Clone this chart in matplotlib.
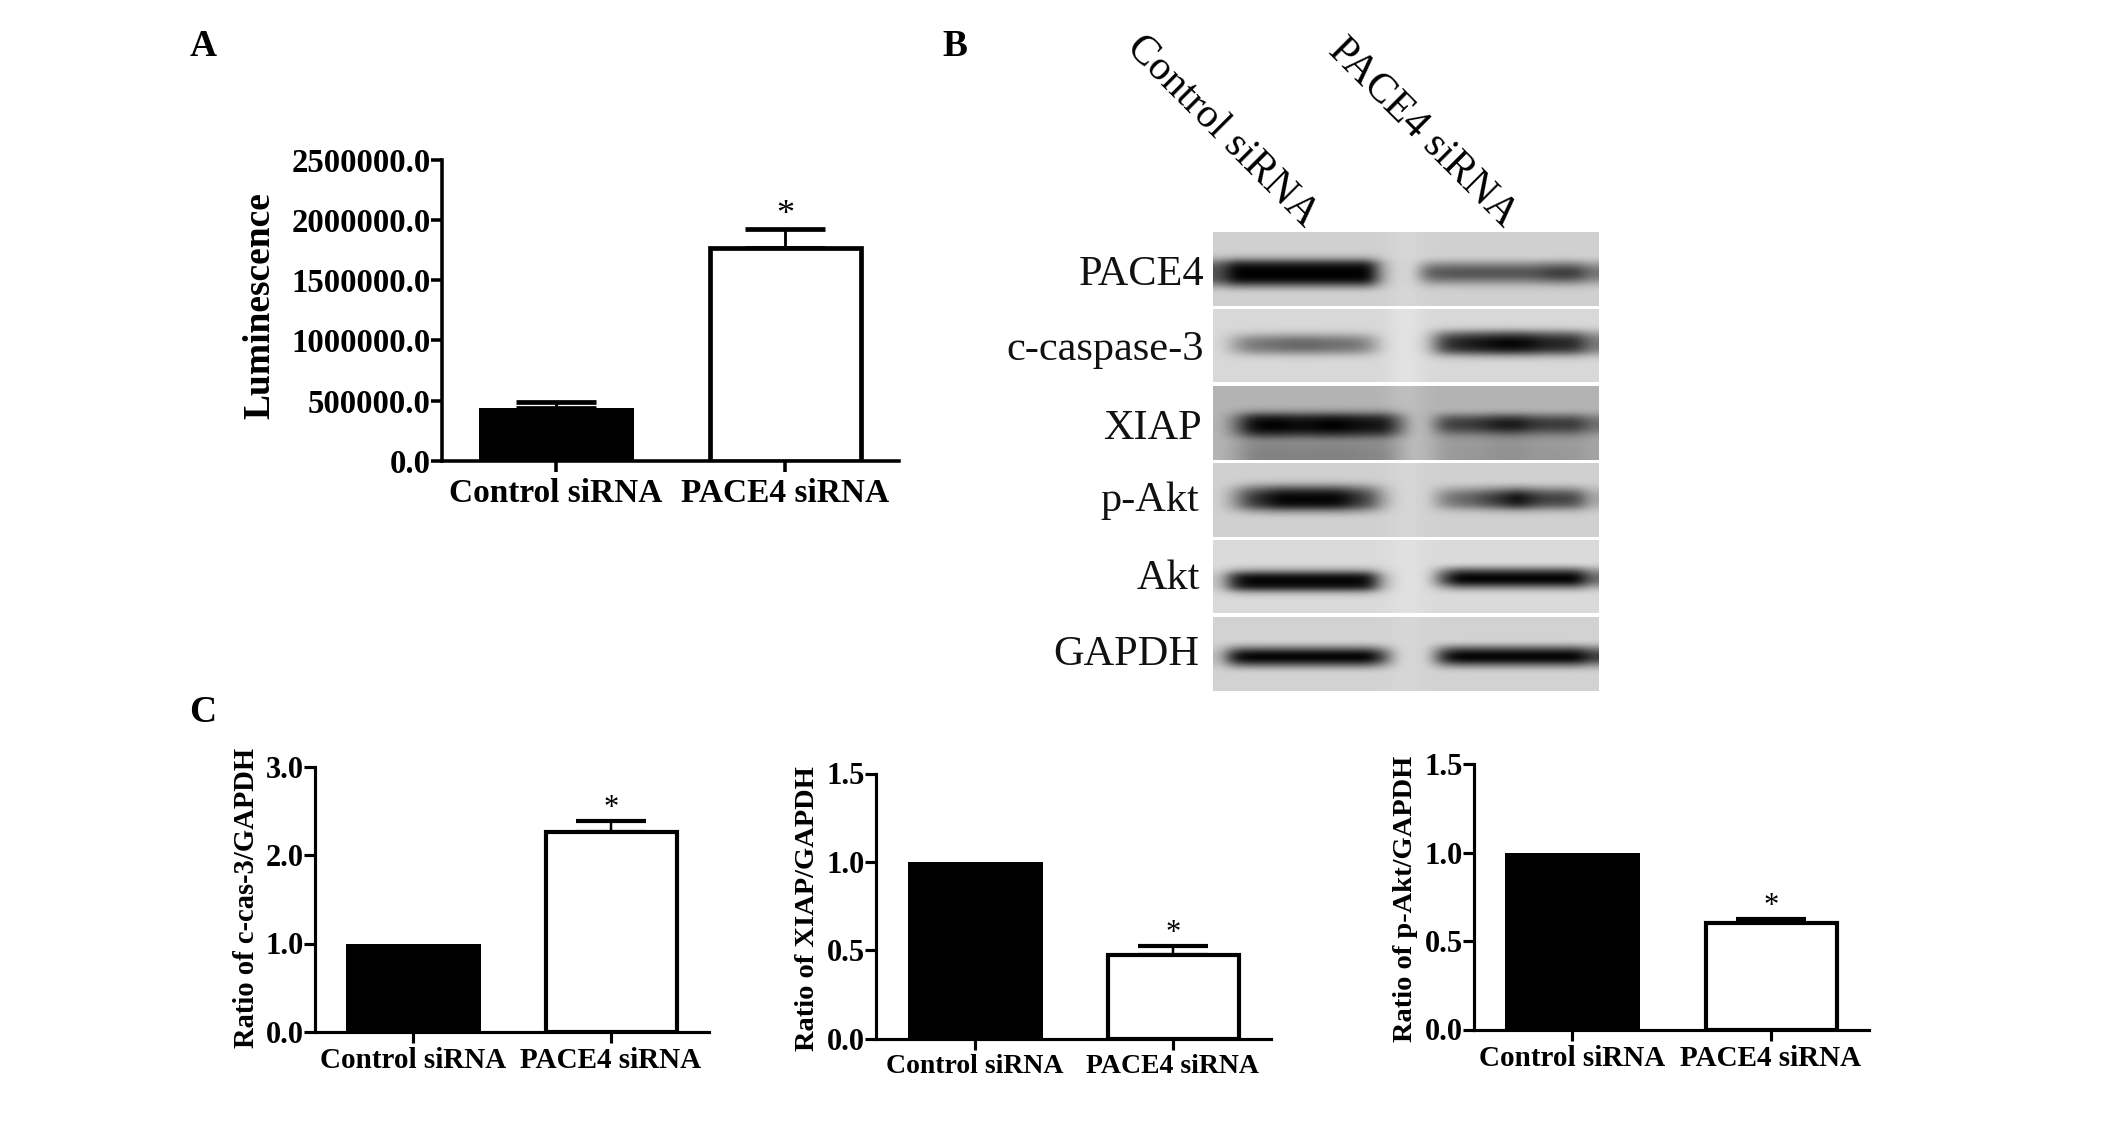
import matplotlib
matplotlib.use('Agg')
import matplotlib.pyplot as plt
import numpy as np

plt.rcParams['font.family'] = ['Liberation Serif', 'DejaVu Serif']

W, H = 2126, 1123

groups = ['Control siRNA', 'PACE4 siRNA']

# bar panels, values
lum_vals = [440000, 1770000]
lum_errs = [53000, 150000]
lum_ticks = [0, 500000, 1000000, 1500000, 2000000, 2500000]
lum_labels = ['0.0', '500000.0', '1000000.0', '1500000.0', '2000000.0', '2500000.0']

cas_vals = [1.0, 2.26]
cas_errs = [0, 0.12]
cas_ticks = [0, 1, 2, 3]
cas_labels = ['0.0', '1.0', '2.0', '3.0']

xiap_vals = [1.0, 0.47]
xiap_errs = [0, 0.055]
pakt_vals = [1.0, 0.60]
pakt_errs = [0, 0.022]
ratio_ticks = [0, 0.5, 1.0, 1.5]
ratio_labels = ['0.0', '0.5', '1.0', '1.5']

# western blot, strips top to bottom
blot_names = ['PACE4', 'c-caspase-3', 'XIAP', 'p-Akt', 'Akt', 'GAPDH']
blot_bg = [208, 216, 180, 208, 218, 210]
blot_gap = [214, 226, 190, 214, 224, 214]
# band darkness along each strip (0 none, 1 black)
blot_x = [
    [.60, 1, 1, 1, 1, 1, 1, 1, 1, 1, 1, .15, 0, 0, .55, .60, .62, .62, .62, .62, .62, .62, .70, .75, .72, .45],
    [0, .25, .45, .48, .52, .55, .55, .52, .50, .48, .35, .03, 0, 0, .10, .70, .85, .90, .95, 1, 1, .95, .85, .85, .80, .45],
    [0, .35, .90, 1, 1, .95, .95, 1, 1, .95, .90, .90, .50, 0, 0, .60, .70, .70, .80, .90, .90, .75, .70, .70, .70, .40],
    [0, .30, .70, .85, 1, 1, 1, 1, 1, .80, .65, .20, 0, 0, 0, .35, .50, .55, .70, .80, 1, .80, .70, .70, .65, .20],
    [.10, .85, 1, 1, 1, 1, 1, 1, 1, 1, .95, .20, 0, 0, 0, .60, 1, 1, 1, 1, 1, 1, 1, 1, 1, .50],
    [.10, .90, 1, 1, 1, 1, 1, 1, 1, 1, 1, .60, 0, 0, 0, .75, 1, 1, 1, 1, 1, 1, 1, 1, 1, .70],
]
# vertical shape of the band, left and right lane
blot_vl = [
    [0, 0, 0, 0, .15, .80, 1, 1, .95, .40, 0, 0, 0],
    [0, 0, 0, 0, .25, .85, 1, .80, .15, 0, 0, 0, 0],
    [0, 0, 0, 0, .20, .85, 1, 1, .70, .25, .25, .28, .28],
    [0, 0, 0, .10, .60, .95, 1, .90, .30, 0, 0, 0, 0],
    [0, 0, 0, 0, 0, .25, .95, 1, .90, .15, 0, 0, 0],
    [0, 0, 0, 0, 0, .45, 1, 1, .45, 0, 0, 0, 0],
]
blot_vr = [
    [0, 0, 0, 0, 0, .45, .90, 1, .65, .15, 0, 0, 0],
    [0, 0, 0, .05, .60, .95, 1, .85, .20, 0, 0, 0, 0],
    [0, 0, 0, 0, .05, .70, 1, .90, .45, .20, .20, .22, .22],
    [0, 0, 0, 0, .40, .90, 1, .80, .15, 0, 0, 0, 0],
    [0, 0, 0, 0, 0, .60, 1, 1, .40, 0, 0, 0, 0],
    [0, 0, 0, 0, 0, .55, 1, 1, .40, 0, 0, 0, 0],
]


def px_axes(left, right, top, bottom):
    return plt.gcf().add_axes([left / W, 1 - bottom / H, (right - left) / W, (bottom - top) / H])


def bar_panel(box, tick_px, bar_w, vals, errs, ymax, yticks, ylabels, ylabel, label_xy,
              lw, ticksize, xsize, ylabsize, starsize, starpad, xpad):
    left, right, top, bottom = box
    ax = px_axes(left, right, top, bottom)
    unit = tick_px[1] - tick_px[0]
    ax.set_xlim((left - tick_px[0]) / unit, (right - tick_px[0]) / unit)
    ax.set_ylim(0, ymax)
    ax.bar([0, 1], vals, width=[(bar_w + 2) / unit, (bar_w - 2) / unit], color=['black', 'white'],
           edgecolor='black', linewidth=[0, lw], zorder=3)
    if errs[0] > 0:
        ax.errorbar([0], vals[0], yerr=[[0], [errs[0]]], color='black', capsize=bar_w * .19,
                    elinewidth=lw * .6, capthick=lw, zorder=2)
    ax.errorbar([1], vals[1], yerr=[[0], [errs[1]]], color='black', capsize=bar_w * .19,
                elinewidth=lw * .6, capthick=lw, zorder=2)
    ax.annotate('*', (1, vals[1] + errs[1]), xytext=(0, starpad), textcoords='offset points',
                ha='center', va='bottom', fontsize=starsize)
    for s in ['top', 'right']:
        ax.spines[s].set_visible(False)
    for s in ['left', 'bottom']:
        ax.spines[s].set_linewidth(lw * .75)
    ax.set_xticks([0, 1], groups, fontsize=xsize, fontweight='bold')
    ax.set_yticks(yticks, ylabels, fontsize=ticksize, fontweight='bold')
    ax.tick_params(axis='both', length=8, width=lw * .75)
    ax.tick_params(axis='y', pad=0)
    ax.tick_params(axis='x', pad=xpad)
    ax.patch.set_alpha(0)
    plt.gcf().text(label_xy[0] / W, 1 - label_xy[1] / H, ylabel, rotation=90, ha='center', va='center',
                   fontsize=ylabsize, fontweight='bold')


fig = plt.figure(figsize=(W / 100, H / 100), dpi=100, facecolor='white')

bar_panel((442, 899, 159.5, 461), (556, 785), 153, lum_vals, lum_errs, 2500000, lum_ticks, lum_labels,
          'Luminescence', (260, 306), 3.4, 23.6, 24, 27, 26, -2, 4.5)
bar_panel((314.5, 709, 766.5, 1032), (413, 611), 133, cas_vals, cas_errs, 3, cas_ticks, cas_labels,
          'Ratio of c-cas-3/GAPDH', (246, 898), 3, 22, 21, 20.6, 22, -1.5, 3)
bar_panel((876, 1271, 773.5, 1038.5), (975, 1173), 133, xiap_vals, xiap_errs, 1.5, ratio_ticks, ratio_labels,
          'Ratio of XIAP/GAPDH', (808, 909), 3, 22, 20, 20.5, 22, -1.5, 3)
bar_panel((1474, 1868.5, 764, 1029.5), (1572, 1771), 133, pakt_vals, pakt_errs, 1.5, ratio_ticks, ratio_labels,
          'Ratio of p-Akt/GAPDH', (1406, 899), 3, 22, 21, 20.5, 22, -1.5, 3)

# blot strips
strip_tops = [232, 309, 386, 463, 540, 617]
strip_bots = [306, 382, 460, 537, 613, 691]
label_y = [275, 350, 429, 501, 579, 655]
label_right = [1204, 1204, 1202, 1199, 1200, 1199]
for i in range(6):
    ax = px_axes(1213, 1599, strip_tops[i], strip_bots[i])
    dark = np.array(blot_x[i])
    vl = np.array(blot_vl[i])
    vr = np.array(blot_vr[i])
    img = np.zeros((len(vl), len(dark)))
    for c in range(len(dark)):
        v = vl if c < 13 else vr
        bg = blot_gap[i] if c in (12, 13) else blot_bg[i]
        img[:, c] = bg * (1 - dark[c] * v)
    ax.imshow(img, cmap='gray', vmin=0, vmax=255, aspect='auto', interpolation='bicubic')
    ax.axis('off')
    fig.text(label_right[i] / W, 1 - label_y[i] / H, blot_names[i], ha='right', va='center',
             fontsize=30.5, color='#111111')

fig.text(1222 / W, 1 - 131 / H, groups[0], rotation=-45, ha='center', va='center', fontsize=30)
fig.text(1422 / W, 1 - 133 / H, groups[1], rotation=-45, ha='center', va='center', fontsize=30)

fig.text(203 / W, 1 - 47 / H, 'A', ha='center', va='center', fontsize=27, fontweight='bold')
fig.text(955 / W, 1 - 47 / H, 'B', ha='center', va='center', fontsize=27, fontweight='bold')
fig.text(203 / W, 1 - 713 / H, 'C', ha='center', va='center', fontsize=27, fontweight='bold')

fig.savefig('out.png', dpi=100)
